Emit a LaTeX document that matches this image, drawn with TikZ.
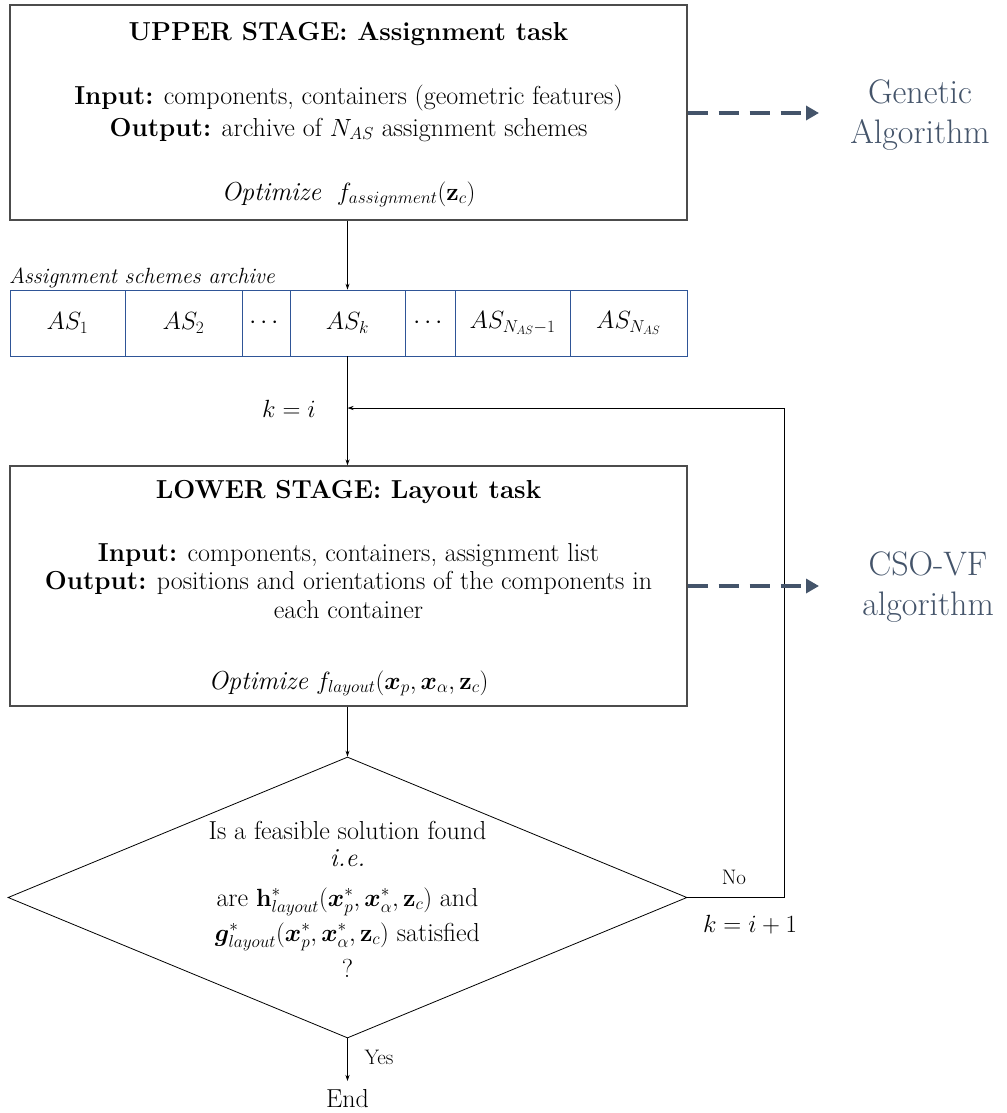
\documentclass[tikz,border=0pt]{standalone}
\usepackage{amsmath,bm}
\usetikzlibrary{arrows.meta,shapes.geometric}
\definecolor{slate}{HTML}{44546A}
\definecolor{cellblue}{HTML}{2F5597}
\newcommand{\mainsz}{\fontsize{26}{30}\selectfont}
\newcommand{\bigsz}{\fontsize{34}{40}\selectfont}
\begin{document}
\begin{tikzpicture}[x=1pt,y=-1pt,
  box/.style={draw=black!70,line width=1.1pt,inner sep=0pt},
  cell/.style={draw=cellblue,line width=0.8pt,inner sep=0pt,minimum height=66pt,font=\fontsize{26}{30}\selectfont},
  txt/.style={inner sep=0pt,anchor=base,font=\mainsz},
  conn/.style={draw=black,line width=0.8pt,-{Stealth[length=6pt,width=4pt]}},
  slatedash/.style={draw=slate,line width=4pt,dash pattern=on 20pt off 11pt,-{Triangle[length=13pt,width=14pt]}},
  side/.style={inner sep=0pt,align=center,text=slate,font=\bigsz},
  small/.style={inner sep=0pt,font=\fontsize{21}{24}\selectfont},
  keq/.style={inner sep=0pt,font=\fontsize{27}{30}\selectfont}]
\useasboundingbox (0,0) rectangle (1006,1113);
% upper stage
\node[box,minimum width=677pt,minimum height=215pt] (up) at (348.5,112.5) {};
\node[txt] (u1) at (348.5,41) {\textbf{UPPER STAGE: Assignment task}};
\node[txt] (u2) at (348.5,105) {\textbf{Input:} components, containers (geometric features)};
\node[txt] (u3) at (348.5,136) {\textbf{Output:} archive of $N_{AS}$ assignment schemes};
\node[txt] (u4) at (348.5,200) {\textit{Optimize}\ \ $f_{assignment}(\mathbf{z}_c)$};
% archive
\node[inner sep=0pt,anchor=base west,font=\fontsize{22}{26}\selectfont\itshape] (arl) at (9,283) {Assignment schemes archive};
\node[cell,minimum width=115pt] (c1) at (67.5,323) {$AS_1$};
\node[cell,minimum width=117pt] (c2) at (183.5,323) {$AS_2$};
\node[cell,minimum width=48pt] (c3) at (266,323) {$\cdots$};
\node[cell,minimum width=115pt] (ck) at (347.5,323) {$AS_k$};
\node[cell,minimum width=50pt] (c5) at (430,323) {$\cdots$};
\node[cell,minimum width=115pt] (c6) at (512.5,323) {$AS_{N_{AS}-1}$};
\node[cell,minimum width=117pt] (c7) at (628.5,323) {$AS_{N_{AS}}$};
\draw[conn] (up.south -| ck.north) -- (ck.north);
% lower stage
\node[box,minimum width=677pt,minimum height=240pt] (low) at (348.5,586) {};
\node[txt] (l1) at (348.5,498) {\textbf{LOWER STAGE: Layout task}};
\node[txt] (l2) at (348.5,561) {\textbf{Input:} components, containers, assignment list};
\node[txt] (l3) at (348.5,589) {\textbf{Output:} positions and orientations of the components in};
\node[txt] (l4) at (348.5,618) {each container};
\node[txt] (l5) at (348.5,689) {\textit{Optimize} $f_{layout}(\bm{x}_p,\bm{x}_\alpha,\mathbf{z}_c)$};
\draw[conn] (ck.south) -- (ck.south |- low.north);
\node[keq] (kl) at (289,409) {$k=i$};
% decision
\node[diamond,draw=black,line width=0.8pt,minimum width=679pt,minimum height=281pt,inner sep=0pt] (dia) at (347.5,897.5) {};
\node[txt] (d1) at (347.5,839) {Is a feasible solution found};
\node[txt] (d2) at (347.5,866) {\textit{i.e.}};
\node[txt] (d3) at (347.5,906) {are $\mathbf{h}^*_{layout}(\bm{x}^*_p,\bm{x}^*_\alpha,\mathbf{z}_c)$ and};
\node[txt] (d4) at (347.5,941) {$\bm{g}^*_{layout}(\bm{x}^*_p,\bm{x}^*_\alpha,\mathbf{z}_c)$ satisfied};
\node[txt] (d5) at (347.5,977) {?};
\draw[conn] (low.south -| dia.north) -- (dia.north);
\node[txt] (endn) at (347.5,1107) {End};
\coordinate (endtop) at (347.5,1081);
\draw[conn] (dia.south) -- (endtop);
\node[small] (yes) at (379,1057) {Yes};
% feedback
\coordinate (fb) at (347.5,408);
\coordinate (fbc) at (784,408);
\draw[conn] (dia.east) -| (fbc) -- (fb);
\node[small] (no) at (734,877) {No};
\node[keq] (kl2) at (750,925) {$k=i+1$};
% side algorithms
\node[side] (ga) at (920,115) {Genetic\\ Algorithm};
\node[side] (cso) at (928,587) {CSO-VF\\ algorithm};
\coordinate (gaa) at (819,113);
\coordinate (csoa) at (819,586);
\draw[slatedash] (up.east |- gaa) -- (gaa);
\draw[slatedash] (low.east |- csoa) -- (csoa);
\end{tikzpicture}
\end{document}
